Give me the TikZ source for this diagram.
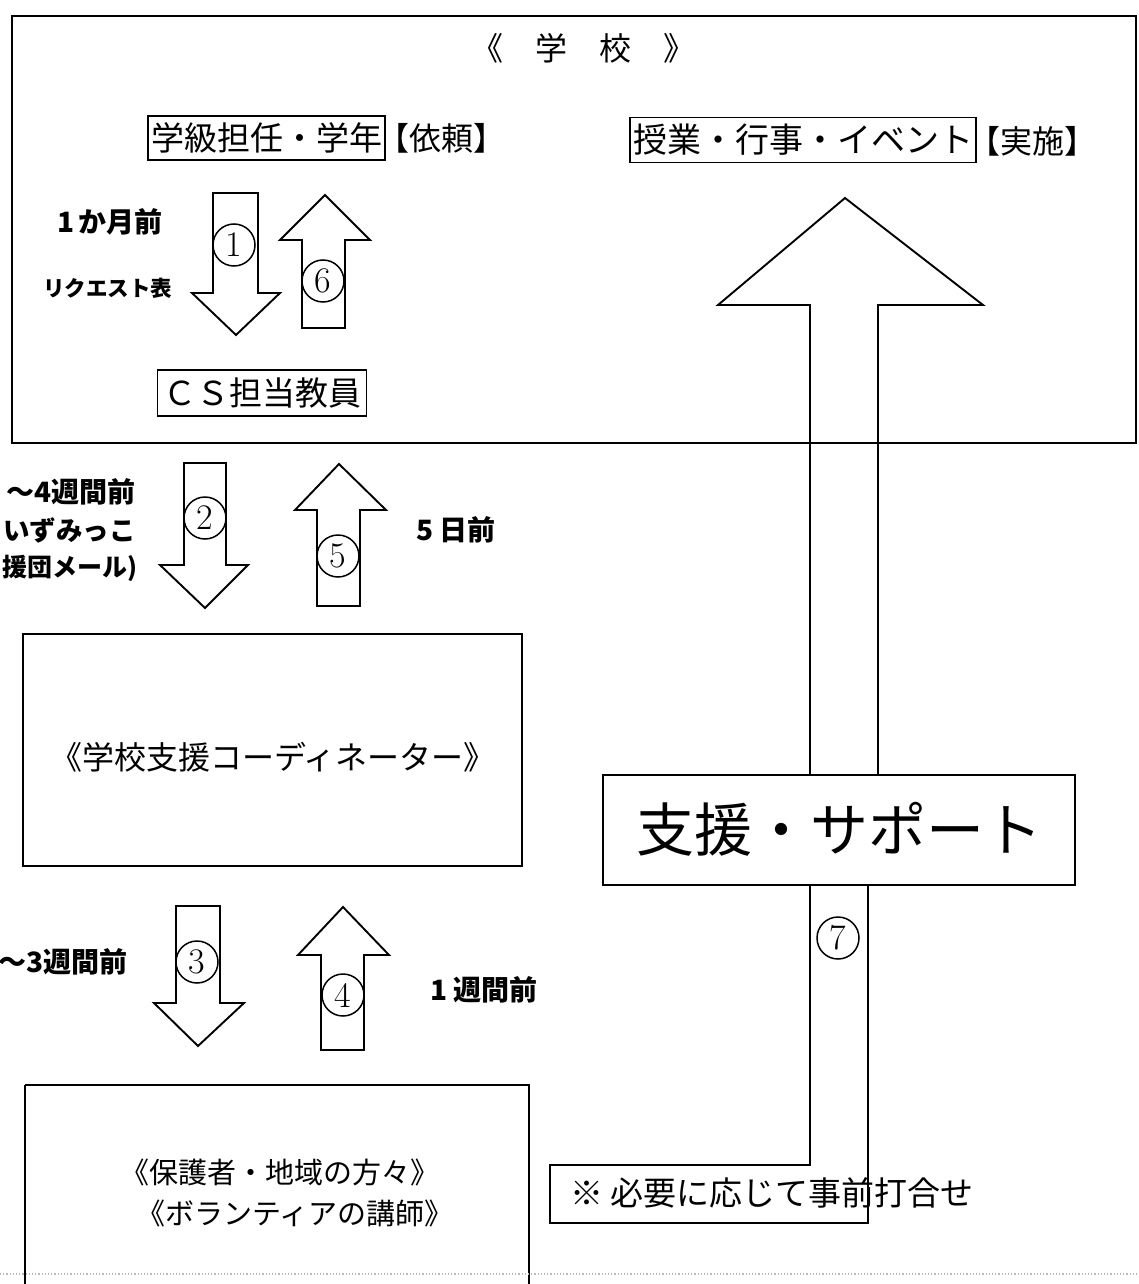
\documentclass[tikz,border=0pt]{standalone}
\usepackage{fontspec}
\newfontfamily\jp{Noto Sans CJK JP}
\begin{document}
\begin{tikzpicture}[x=1pt,y=-1pt,line join=miter]
\tikzset{
  ln/.style={line width=1.9pt},
  thinbox/.style={draw,line width=1.6pt,inner sep=0pt},
  jptext/.style={inner sep=0pt,font=\jp\fontsize{#1}{#1}\selectfont},
  jpbold/.style={inner sep=0pt,font=\jp\bfseries\fontsize{#1}{#1}\selectfont},
  num/.style={circle,draw,line width=1.5pt,minimum size=42pt,inner sep=0pt,font=\rmfamily\fontsize{36}{36}\selectfont},
}
\useasboundingbox (0,0) rectangle (1138,1284);
\clip (0,0) rectangle (1138,1284);
\fill[white] (0,0) rectangle (1138,1284);

% ---------------- school box ----------------
\draw[ln] (12,16) rectangle (1136,443);
\node[jptext=32] (title) at (583,48) {《　学　校　》};
\node[thinbox,minimum width=237pt,minimum height=44pt,jptext=33,draw] (teacher) at (266.5,138) {学級担任・学年};
\node[jptext=32,anchor=west] (irai) at (377,138) {【依頼】};
\node[thinbox,minimum width=346pt,minimum height=45pt,jptext=34,draw] (event) at (803,140) {授業・行事・イベント};
\node[jptext=32,anchor=west] (jisshi) at (968,141) {【実施】};
\node[thinbox,minimum width=209pt,minimum height=46pt,jptext=33,draw] (cs) at (262,393) {ＣＳ担当教員};

\node[jpbold=28,anchor=west] (lbl1) at (57,222) {1\,か月前};
\node[jpbold=21.5,anchor=west] (lblreq) at (43,288) {リクエスト表};

% arrow 1 (down)
\draw[ln] (213,193) -- (258,193) -- (258,293) -- (280,293) -- (236,335) -- (192,293) -- (213,293) -- cycle;
\node[num] (n1) at (234,245) {1};
% arrow 6 (up)
\draw[ln] (302,328) -- (345,328) -- (345,240) -- (370,240) -- (325,195) -- (280,240) -- (302,240) -- cycle;
\node[num] (n6) at (323,281) {6};

% ---------------- between school and coordinator ----------------
\node[jpbold=28,anchor=east] (lbl2a) at (136,492) {～4週間前};
\node[jpbold=26.5,anchor=east] (lbl2b) at (136,530) {いずみっこ};
\node[jpbold=25,anchor=east] (lbl2c) at (138,568) {援団メール)};
\node[jpbold=28,anchor=west] (lbl5) at (416,530) {5 日前};

% arrow 2 (down)
\draw[ln] (184,463) -- (226,463) -- (226,565) -- (248,565) -- (205,608) -- (160,565) -- (184,565) -- cycle;
\node[num] (n2) at (205,518) {2};
% arrow 5 (up)
\draw[ln] (317,606) -- (360,606) -- (360,510) -- (386,510) -- (339,464) -- (295,510) -- (317,510) -- cycle;
\node[num] (n5) at (338,556) {5};

% ---------------- coordinator ----------------
\draw[ln] (23,634) rectangle (522,866);
\node[jptext=32] (coord) at (273,757) {《学校支援コーディネーター》};

% ---------------- between coordinator and volunteers ----------------
\node[jpbold=28,anchor=east] (lbl3) at (128,962) {～3週間前};
\node[jpbold=28,anchor=west] (lbl4) at (430,990) {1 週間前};

% arrow 3 (down)
\draw[ln] (176,906) -- (220,906) -- (220,1003) -- (244,1003) -- (198,1046) -- (154,1003) -- (176,1003) -- cycle;
\node[num] (n3) at (197,962) {3};
% arrow 4 (up)
\draw[ln] (321,1050) -- (364,1050) -- (364,955) -- (389,955) -- (343,907) -- (298,955) -- (321,955) -- cycle;
\node[num] (n4) at (343,995) {4};

% ---------------- volunteers ----------------
\draw[ln] (25,1085) -- (25,1300) (529,1300) -- (529,1085) -- (25,1085);
\node[jptext=29] (vol1) at (280,1172) {《保護者・地域の方々》};
\node[jptext=29] (vol2) at (295,1213) {《ボランティアの講師》};

% ---------------- big support arrow ----------------
\draw[ln] (810,775) -- (810,305) -- (718,305) -- (845,198) -- (983,305) -- (878,305) -- (878,775);
\node[draw,line width=1.9pt,minimum width=472pt,minimum height=110pt,inner sep=0pt] (support) at (839,830) {};
\node[jptext=58] (supporttext) at (839,829) {支援・サポート};
\draw[ln] (810,885) -- (810,1165) -- (550,1165) -- (550,1223) -- (868,1223) -- (868,885);
\node[num] (n7) at (838,938) {7};
\node[jptext=33,anchor=west] (note) at (570,1193) {※ 必要に応じて事前打合せ};

% scan line at the bottom
\draw[gray!55,line width=1.2pt,dotted] (0,1274) -- (1138,1274);
\end{tikzpicture}
\end{document}
